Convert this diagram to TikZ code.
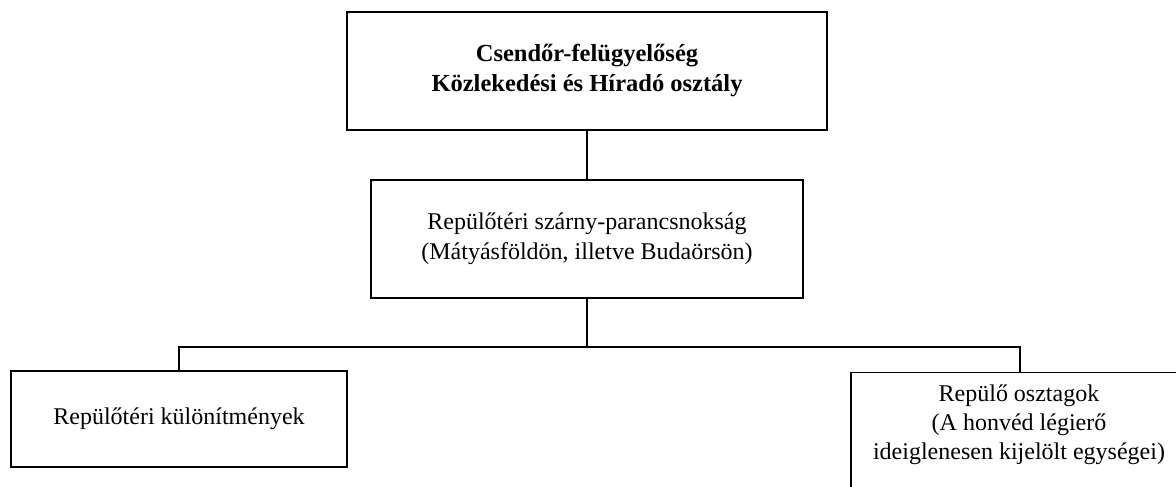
\documentclass[tikz,border=0pt]{standalone}
\usepackage{fontspec}
\setmainfont{Liberation Serif}
\usetikzlibrary{positioning}

\begin{document}
\begin{tikzpicture}[x=1pt,y=-1pt,
  unit/.style={draw,line width=1.4pt,align=center,inner sep=0pt,
    font=\fontsize{24}{30}\selectfont},
  link/.style={line width=1.4pt}]
\useasboundingbox (0,0) rectangle (1176,487);
\clip (0,0) rectangle (1176,487);
\node[unit,minimum width=480pt,minimum height=118pt,font=\fontsize{24.5}{30}\selectfont\bfseries]
  (fel) at (587,71) {Csendőr-felügyelőség\\Közlekedési és Híradó osztály};
\node[unit,minimum width=432pt,minimum height=118pt]
  (szarny) at (587,239) {Repülőtéri szárny-parancsnokság\\(Mátyásföldön, illetve Budaörsön)};
\node[unit,minimum width=336pt,minimum height=96pt]
  (kulon) at (179,419) {Repülőtéri különítmények};
\node[unit,minimum width=338pt,minimum height=140pt,anchor=north]
  (osztag) at (1020,372) {};
\node[align=center,font=\fontsize{24}{29}\selectfont,anchor=north]
  (osztagtxt) at (1019,381) {Repülő osztagok\\(A honvéd légierő\\ideiglenesen kijelölt egységei)};
\coordinate (bus) at (587,347);
\draw[link] (fel.south) -- (szarny.north);
\draw[link] (szarny.south) -- (bus);
\draw[link] (bus) -| (kulon.north);
\draw[link] (bus) -| (osztag.north);
\end{tikzpicture}
\end{document}
